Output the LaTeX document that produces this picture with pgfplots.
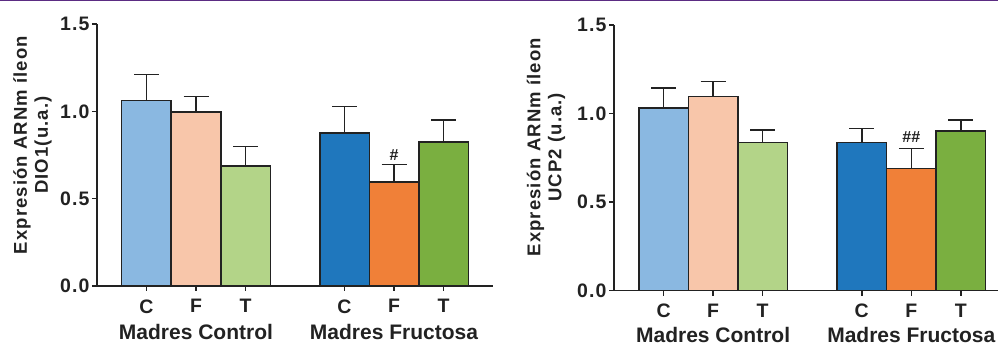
\documentclass[border=0pt]{standalone}
\usepackage{pgfplots}
\pgfplotsset{compat=1.18}
\usepackage{fontspec}
\setmainfont{Liberation Sans}
\newfontfamily\spaced[LetterSpace=6]{Liberation Sans}
\definecolor{txt}{HTML}{222222}
\definecolor{lblue}{HTML}{8AB8E1}
\definecolor{lpeach}{HTML}{F8C6AA}
\definecolor{lgreen}{HTML}{B3D488}
\definecolor{dblue}{HTML}{1F77BD}
\definecolor{dorange}{HTML}{F08038}
\definecolor{dgreen}{HTML}{7AAF40}
\definecolor{topline}{HTML}{5B2C83}
\tikzset{grp/.style={font=\bfseries\fontsize{21}{21}\selectfont, text=txt, yshift=-46pt}}
\pgfplotsset{
  mystyle/.style={
    scale only axis,
    anchor=south west,
    ymin=0, ymax=1.5,
    xmin=0,
    axis x line*=bottom, axis y line*=left,
    axis line style={-, line width=1.5pt, txt},
    tick style={line width=1.5pt, txt},
    tick align=outside,
    major tick length=5pt,
    xtick={1,2,3,5,6,7},
    xticklabels={C,F,T,C,F,T},
    ytick={0,0.5,1,1.5},
    /pgf/number format/fixed,
    /pgf/number format/fixed zerofill,
    /pgf/number format/precision=1,
    /pgf/number format/assume math mode=true,
    ticklabel style={font=\spaced\bfseries\fontsize{19.5}{19.5}\selectfont, text=txt},
    xticklabel style={yshift=-5pt},
    yticklabel style={xshift=1pt},
    bar width=1,
    ylabel style={font=\spaced\bfseries\fontsize{18.5}{21}\selectfont, text=txt, align=center},
    clip=false,
  },
  barst/.style={ybar, draw=txt, line width=1.5pt, fill=#1,
    error bars/.cd, y dir=plus, y explicit,
    error bar style={line width=1.5pt, txt},
    error mark options={rotate=90, mark size=12.5pt, line width=1.5pt, txt}},
}
\begin{document}
\begin{tikzpicture}
\useasboundingbox (0,0) rectangle (998pt,345pt);
\fill[topline] (0,344pt) rectangle (998pt,345pt);
% Left panel
\begin{axis}[mystyle, at={(97pt,59pt)}, width=396pt, height=262pt, xmax=8,
  ylabel={Expresión ARNm íleon\\DIO1(u.a.)},
  ylabel style={at={(axis description cs:-0.163,0.538)}, anchor=center}]
\addplot[barst=lblue] coordinates {(1,1.063) +- (0,0.148)};
\addplot[barst=lpeach] coordinates {(2,0.995) +- (0,0.091)};
\addplot[barst=lgreen] coordinates {(3,0.686) +- (0,0.114)};
\addplot[barst=dblue] coordinates {(5,0.877) +- (0,0.152)};
\addplot[barst=dorange] coordinates {(6,0.594) +- (0,0.103)};
\addplot[barst=dgreen] coordinates {(7,0.823) +- (0,0.126)};
\node[font=\bfseries\fontsize{16}{16}\selectfont, text=txt] at (axis cs:6,0.75) {\#};
\node[grp] at (axis cs:2,0) {Madres Control};
\node[grp] at (axis cs:6,0) {Madres Fructosa};
\end{axis}
% Right panel
\begin{axis}[mystyle, at={(614pt,54.3pt)}, width=384pt, height=265.7pt, xmax=7.75,
  ylabel={Expresión ARNm íleon\\UCP2 (u.a.)},
  ylabel style={at={(axis description cs:-0.177,0.54)}, anchor=center}]
\addplot[barst=lblue] coordinates {(1,1.03) +- (0,0.113)};
\addplot[barst=lpeach] coordinates {(2,1.096) +- (0,0.085)};
\addplot[barst=lgreen] coordinates {(3,0.836) +- (0,0.072)};
\addplot[barst=dblue] coordinates {(5,0.838) +- (0,0.079)};
\addplot[barst=dorange] coordinates {(6,0.691) +- (0,0.113)};
\addplot[barst=dgreen] coordinates {(7,0.902) +- (0,0.063)};
\node[font=\bfseries\fontsize{16}{16}\selectfont, text=txt] at (axis cs:6,0.868) {\#\#};
\node[grp, yshift=2pt] at (axis cs:2,0) {Madres Control};
\node[grp, yshift=2pt] at (axis cs:6,0) {Madres Fructosa};
\end{axis}
\end{tikzpicture}
\end{document}
